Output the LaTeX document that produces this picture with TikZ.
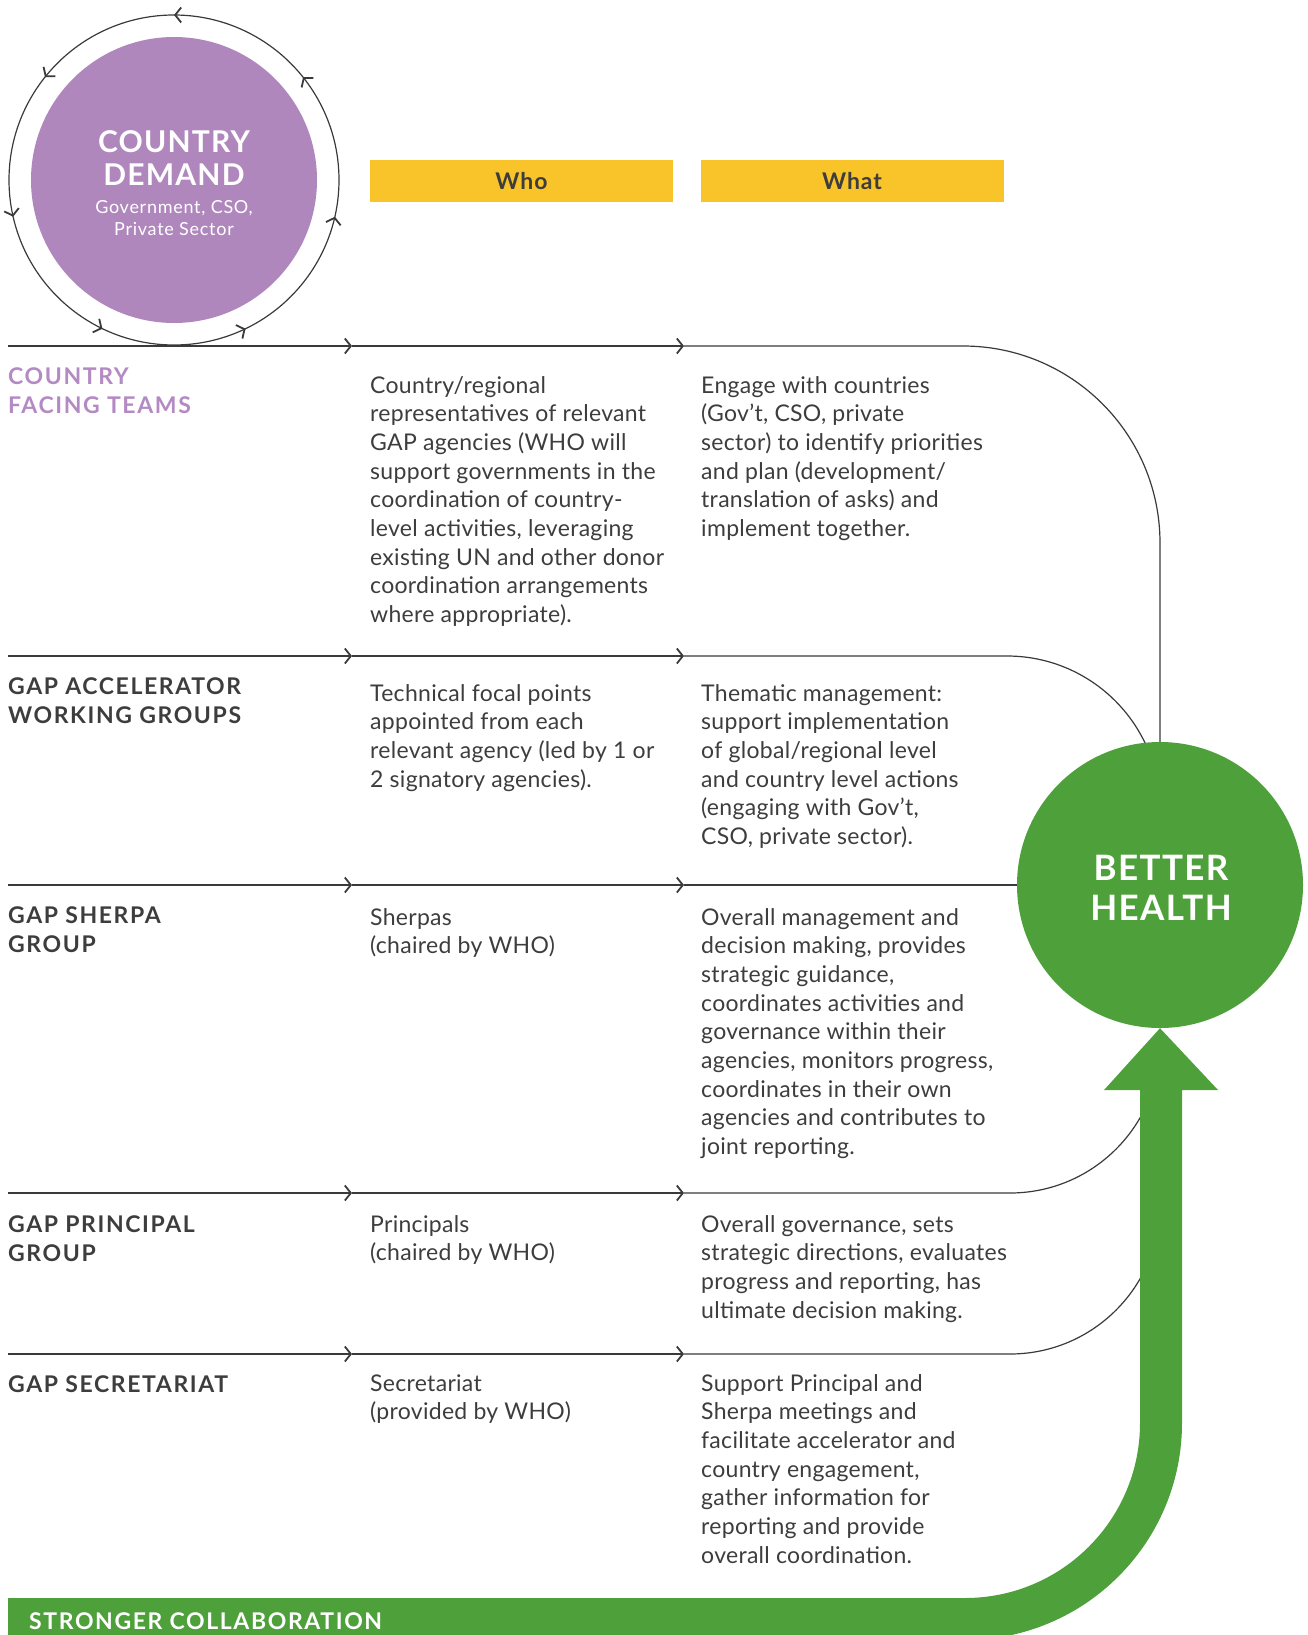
\documentclass[tikz,border=0pt]{standalone}
\usepackage{fontspec}
\setmainfont[LetterSpace=1.3]{Lato}
\newfontfamily\labfont[LetterSpace=7]{Lato}
\newfontfamily\headfont[LetterSpace=4]{Lato}
\usetikzlibrary{arrows.meta,decorations.markings}
\definecolor{txt}{HTML}{3D3D3D}
\definecolor{ln}{HTML}{3A3A3A}
\definecolor{purp}{HTML}{AF87BD}
\definecolor{purptxt}{HTML}{B38AC3}
\definecolor{grn}{HTML}{4EA03A}
\definecolor{yel}{HTML}{F9C429}
\pgfdeclarelayer{background}
\pgfsetlayers{background,main}
\begin{document}
\begin{tikzpicture}[x=1pt,y=-1pt,
  body/.style={anchor=base west, align=left, inner sep=0pt, text=txt, font=\fontsize{23}{28.7}\selectfont},
  lab/.style={anchor=base west, align=left, inner sep=0pt, text=txt, font=\labfont\bfseries\fontsize{23}{29}\selectfont},
  rowline/.style={draw=ln, line width=1.2pt},
  tip/.style={-{Straight Barb[length=6pt,width=15pt,line width=1.8pt]}},
  bar/.style={fill=yel, minimum width=303pt, minimum height=42pt, inner sep=0pt, text=txt, font=\headfont\bfseries\fontsize{23}{28}\selectfont},
  ringmarks/.style={decoration={markings,
    mark=at position 0.0357 with {\arrowreversed{Straight Barb[length=6pt,width=15pt,line width=1.8pt]}},
    mark=at position 0.1786 with {\arrowreversed{Straight Barb[length=6pt,width=15pt,line width=1.8pt]}},
    mark=at position 0.3214 with {\arrowreversed{Straight Barb[length=6pt,width=15pt,line width=1.8pt]}},
    mark=at position 0.4643 with {\arrowreversed{Straight Barb[length=6pt,width=15pt,line width=1.8pt]}},
    mark=at position 0.6071 with {\arrowreversed{Straight Barb[length=6pt,width=15pt,line width=1.8pt]}},
    mark=at position 0.7500 with {\arrowreversed{Straight Barb[length=6pt,width=15pt,line width=1.8pt]}},
    mark=at position 0.8929 with {\arrowreversed{Straight Barb[length=6pt,width=15pt,line width=1.8pt]}}},
    postaction=decorate},
  white/.style={text=white, inner sep=0pt, anchor=base}
]
\useasboundingbox (0,0) rectangle (1308,1635);

% ---- country demand circle ----
\node[circle, fill=purp, minimum size=286pt, inner sep=0pt] (demand) at (174,180) {};
\draw[draw=ln, line width=1.2pt, ringmarks] (demand.center) circle[radius=165];
\node[white, font=\headfont\bfseries\fontsize{30}{32}\selectfont] (cd1) at (174,153) {COUNTRY};
\node[white, font=\headfont\bfseries\fontsize{30}{32}\selectfont] (cd2) at (174,185) {DEMAND};
\node[white, font=\headfont\fontsize{18}{22}\selectfont] (cd3) at (174,213) {Government, CSO,};
\node[white, font=\headfont\fontsize{18}{22}\selectfont] (cd4) at (174,235) {Private Sector};

% ---- header bars ----
\node[bar] (who) at (521.5,181) {Who};
\node[bar] (what) at (852,181) {What};

% ---- better health ----
\node[circle, fill=grn, minimum size=286pt, inner sep=0pt] (health) at (1160,885) {};
\node[white, font=\headfont\bfseries\fontsize{35}{40}\selectfont] (bh1) at (1161,880) {BETTER};
\node[white, font=\headfont\bfseries\fontsize{35}{40}\selectfont] (bh2) at (1161,920) {HEALTH};

% ---- row coordinates ----
\coordinate (r1s) at (8,346);   \coordinate (r1a) at (352,346);  \coordinate (r1b) at (684,346);
\coordinate (r2s) at (8,656);   \coordinate (r2a) at (352,656);  \coordinate (r2b) at (684,656);
\coordinate (r3s) at (8,885);   \coordinate (r3a) at (352,885);  \coordinate (r3b) at (684,885);
\coordinate (r4s) at (8,1193);  \coordinate (r4a) at (352,1193); \coordinate (r4b) at (684,1193);
\coordinate (r5s) at (8,1354);  \coordinate (r5a) at (352,1354); \coordinate (r5b) at (684,1354);

\begin{pgfonlayer}{background}
\draw[rowline,tip] (r1s) -- (r1a);
\draw[rowline,tip] (r1a) -- (r1b);
\draw[rowline] (r1b) -- (963,346) arc[start angle=-90,end angle=0,radius=197] -- (health.north);
\draw[rowline,tip] (r2s) -- (r2a);
\draw[rowline,tip] (r2a) -- (r2b);
\draw[rowline] (r2b) -- (1007,656) arc[start angle=-90,end angle=0,radius=153];
\draw[rowline,tip] (r3s) -- (r3a);
\draw[rowline,tip] (r3a) -- (r3b);
\draw[rowline] (r3b) -- (health.center);
\draw[rowline,tip] (r4s) -- (r4a);
\draw[rowline,tip] (r4a) -- (r4b);
\draw[rowline] (r4b) -- (1010,1193) arc[start angle=90,end angle=0,radius=150];
\draw[rowline,tip] (r5s) -- (r5a);
\draw[rowline,tip] (r5a) -- (r5b);
\draw[rowline] (r5b) -- (1010,1354) arc[start angle=90,end angle=0,radius=150];
\end{pgfonlayer}

% ---- green arrow ----
\fill[grn] (8,1598) -- (965,1598) arc[start angle=90,end angle=0,radius=175]
  -- (1140,1090) -- (1104,1090) -- (health.south) -- (1218,1090) -- (1182,1090)
  -- (1182,1423) arc[start angle=0,end angle=90,radius=217] -- (8,1640) -- cycle;
\node[anchor=base west, inner sep=0pt, text=white, font=\labfont\bfseries\fontsize{23}{28}\selectfont] (sc) at (29,1629) {STRONGER COLLABORATION};

% ---- labels (anchor = baseline of last line) ----
\node[lab, text=purptxt] (l1) at (8,413) {COUNTRY\\FACING TEAMS};
\node[lab] (l2) at (8,723) {GAP ACCELERATOR\\WORKING GROUPS};
\node[lab] (l3) at (8,952) {GAP SHERPA\\GROUP};
\node[lab] (l4) at (8,1261) {GAP PRINCIPAL\\GROUP};
\node[lab] (l5) at (8,1392) {GAP SECRETARIAT};

% ---- who ----
\node[body] (w1) at (370,622.6) {Country/regional\\representatives of relevant\\GAP agencies (WHO will\\support governments in the\\coordination of country-\\level activities, leveraging\\existing UN and other donor\\coordination arrangements\\where appropriate).};
\node[body] (w2) at (370,787.1) {Technical focal points\\appointed from each\\relevant agency (led by 1 or\\2 signatory agencies).};
\node[body] (w3) at (370,953.7) {Sherpas\\(chaired by WHO)};
\node[body] (w4) at (370,1260.7) {Principals\\(chaired by WHO)};
\node[body] (w5) at (370,1419.7) {Secretariat\\(provided by WHO)};

% ---- what ----
\node[body] (t1) at (701,536.5) {Engage with countries\\(Gov’t, CSO, private\\sector) to identify priorities\\and plan (development/\\translation of asks) and\\implement together.};
\node[body] (t2) at (701,844.5) {Thematic management:\\support implementation\\of global/regional level\\and country level actions\\(engaging with Gov’t,\\CSO, private sector).};
\node[body] (t3) at (701,1154.6) {Overall management and\\decision making, provides\\strategic guidance,\\coordinates activities and\\governance within their\\agencies, monitors progress,\\coordinates in their own\\agencies and contributes to\\joint reporting.};
\node[body] (t4) at (701,1318.1) {Overall governance, sets\\strategic directions, evaluates\\progress and reporting, has\\ultimate decision making.};
\node[body] (t5) at (701,1563.2) {Support Principal and\\Sherpa meetings and\\facilitate accelerator and\\country engagement,\\gather information for\\reporting and provide\\overall coordination.};
\end{tikzpicture}
\end{document}
